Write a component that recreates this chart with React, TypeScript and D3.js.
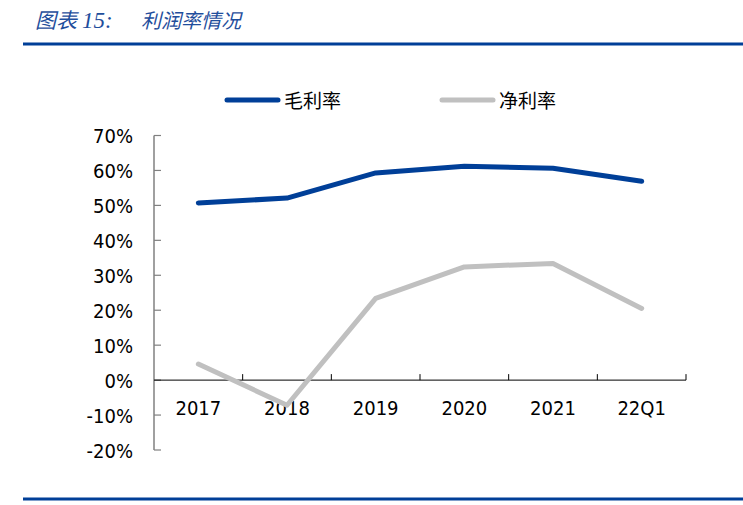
import React from "react";
import * as d3 from "d3";

const categories = ["2017", "2018", "2019", "2020", "2021", "22Q1"];
const grossMargin = [50.7, 52.1, 59.3, 61.2, 60.6, 56.9];
const netMargin = [4.6, -7.2, 23.4, 32.4, 33.4, 20.5];
const yTicks = [-20, -10, 0, 10, 20, 30, 40, 50, 60, 70];
const seriesNames = ["毛利率", "净利率"];

const W = 743;
const H = 505;
const font = "'DejaVu Sans Condensed', 'DejaVu Sans', Verdana, sans-serif";
const cjk = "'Noto Sans CJK SC', sans-serif";

export default function App() {
  const x = d3.scaleBand<string>().domain(categories).range([154, 686]);
  const y = d3.scaleLinear().domain([-20, 70]).range([450, 135.5]);
  const line = d3
    .line<number>()
    .x((_, i) => (x(categories[i]) as number) + x.bandwidth() / 2)
    .y((d) => y(d));
  const boundaries = categories.map((c) => x(c) as number).concat([686]);

  return (
    <svg width={W} height={H} style={{ position: "absolute", left: 0, top: 0 }}>
      <rect width={W} height={H} fill="#fff" />
      <text x={35} y={28} fill="#1f4e9c" fontSize={21} fontStyle="italic" fontFamily={cjk}>
        图表<tspan fontFamily="'Liberation Serif', serif" fontSize={23} dx={5}>15:</tspan>
      </text>
      <text x={141} y={28} fill="#1f4e9c" fontSize={20} fontStyle="italic" fontFamily={cjk}>
        利润率情况
      </text>
      <rect x={23} y={42.5} width={720} height={3} fill="#003f98" />
      <rect x={23} y={497.5} width={720} height={3} fill="#003f98" />

      {/* legend */}
      <line x1={227} x2={278} y1={100} y2={100} stroke="#003f98" strokeWidth={5} strokeLinecap="round" />
      <text x={284} y={108} fontSize={19} fontFamily={cjk} fill="#000">{seriesNames[0]}</text>
      <line x1={442} x2={493} y1={100} y2={100} stroke="#c0c0c0" strokeWidth={5} strokeLinecap="round" />
      <text x={499} y={108} fontSize={19} fontFamily={cjk} fill="#000">{seriesNames[1]}</text>

      {/* y axis */}
      <line x1={154} x2={154} y1={y(70)} y2={y(-20)} stroke="#808080" strokeWidth={1.5} />
      {yTicks.map((t) => (
        <g key={t}>
          <line x1={154} x2={161} y1={y(t)} y2={y(t)} stroke="#808080" strokeWidth={1.2} />
          <text x={133} y={y(t) + 7.5} textAnchor="end" fontSize={20} fontFamily={font} fill="#000">
            {t}%
          </text>
        </g>
      ))}

      {/* x axis */}
      <line x1={154} x2={686} y1={y(0)} y2={y(0)} stroke="#000" strokeWidth={1} />
      {boundaries.slice(1).map((b, i) => (
        <line key={i} x1={b} x2={b} y1={y(0)} y2={y(0) - 6} stroke="#000" strokeWidth={1} />
      ))}
      {categories.map((c) => (
        <text key={c} x={(x(c) as number) + x.bandwidth() / 2} y={415} textAnchor="middle" fontSize={20} fontFamily={font} fill="#000">
          {c}
        </text>
      ))}

      <path d={line(netMargin) || ""} fill="none" stroke="#c0c0c0" strokeWidth={5} strokeLinecap="round" strokeLinejoin="round" />
      <path d={line(grossMargin) || ""} fill="none" stroke="#003f98" strokeWidth={5} strokeLinecap="round" strokeLinejoin="round" />
    </svg>
  );
}
